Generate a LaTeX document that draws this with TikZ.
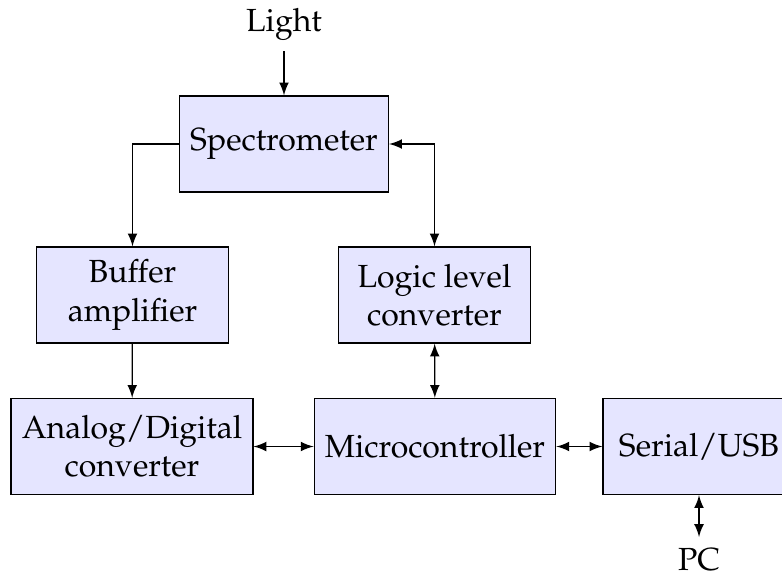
\documentclass[tikz,border=0pt]{standalone}
\usepackage[T1]{fontenc}
\usepackage{mathpazo}
\usepackage{tikz}
\usetikzlibrary{arrows,arrows.meta,calc}

\begin{document}
\begin{tikzpicture}[x=0.3125pt,y=-0.3125pt,
	block/.style={draw=black,line width=0.4pt,fill=blue!10,align=center,minimum width=60pt,minimum height=30pt,inner sep=3.33pt},
	link/.style={line width=0.4pt}]
\useasboundingbox (0,0) rectangle (782,576);
\node (light) at (284,24) {Light};
\node [block] (spec) at (284,144) {Spectrometer};
\node [block] (buf) at (132.5,295) {Buffer\\amplifier};
\node [block] (logic) at (434.5,295) {Logic level\\converter};
\node [block] (adc) at (132,446.5) {Analog/Digital\\converter};
\node [block] (mcu) at (435,446.5) {Microcontroller};
\node [block] (usb) at (699,446.5) {Serial/USB};
\node [anchor=north] (pc) at (699,537) {PC};

\draw [-latex,link] (light) -- (spec);
\draw [-latex,link] (spec.west) -| (buf.north);
\draw [latex-latex,link] (spec.east) -| (logic.north);
\draw [-latex,link] (buf) -- (adc);
\draw [latex-latex,link] (logic) -- (mcu);
\draw [latex-latex,link] (adc) -- (mcu);
\draw [latex-latex,link] (mcu) -- (usb);
\draw [latex-latex,link] (usb) -- (pc);
\end{tikzpicture}
\end{document}
